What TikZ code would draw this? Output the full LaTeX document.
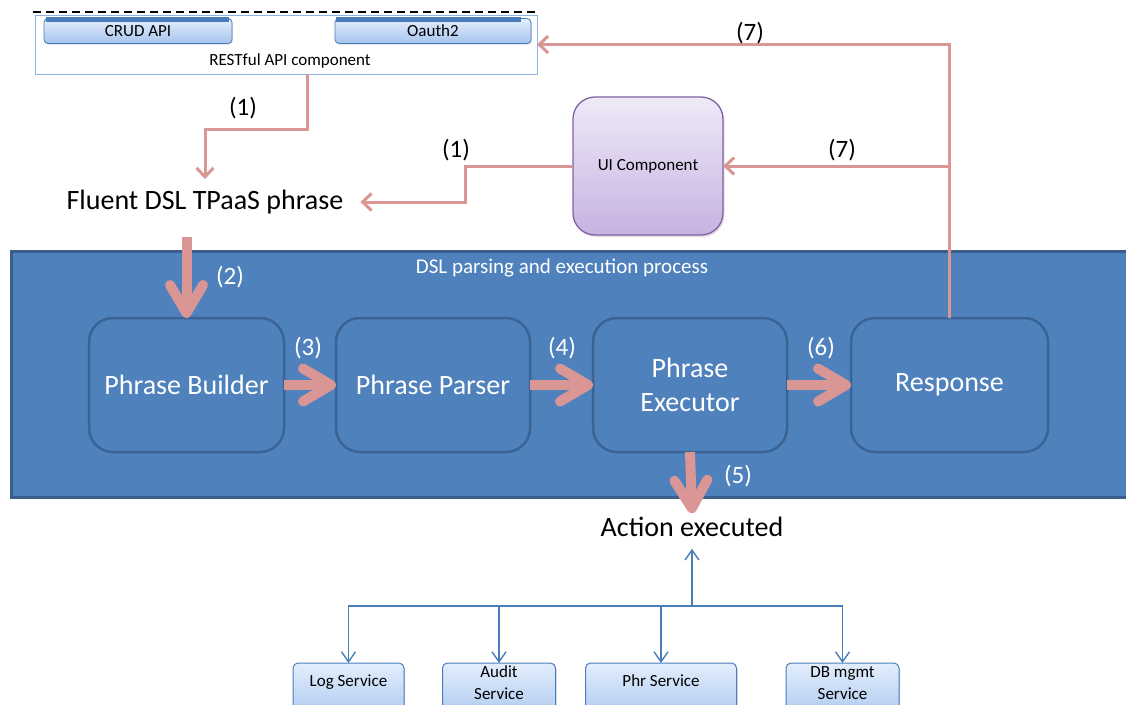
\documentclass[tikz,border=0pt]{standalone}
\usepackage{fontspec}
\setmainfont{Carlito}
\usetikzlibrary{arrows.meta,shadows,calc}

\definecolor{flow}{HTML}{D99694}
\definecolor{procfill}{HTML}{4F81BD}
\definecolor{procline}{HTML}{3A5F8B}
\definecolor{stageline}{HTML}{3B6396}
\definecolor{svcline}{HTML}{4A7EBB}
\definecolor{svctop}{HTML}{E3EEFC}
\definecolor{svcbot}{HTML}{A7C5EE}
\definecolor{uitop}{HTML}{EFEAF7}
\definecolor{uibot}{HTML}{C6B2E2}
\definecolor{uiline}{HTML}{8064A2}
\definecolor{restline}{HTML}{8EB4E3}

\tikzset{
  x=1pt, y=-1pt,
  every node/.style={inner sep=0pt, outer sep=0pt},
  fs/.style 2 args={font=\fontsize{#1}{#2}\selectfont},
  thin flow/.style={draw=flow, line width=3pt, -{Straight Barb[length=9pt,width=17pt]}},
  thick flow/.style={draw=flow, line width=10pt, -{Straight Barb[round,length=28pt,width=33pt]}},
  stage/.style={draw=stageline, line width=2.5pt, rounded corners=24pt,
    minimum height=134pt, text=white, fs={28}{34}, align=center},
  svcbox/.style={draw=svcline, line width=1pt, rounded corners=5pt,
    top color=svctop, bottom color=svcbot, minimum height=60pt,
    drop shadow={shadow xshift=1pt, shadow yshift=-1.5pt, opacity=0.3}},
  svctext/.style={fs={17}{22}, align=center},
  svc arrow/.style={draw=svcline, line width=1.4pt, -{Straight Barb[length=10pt,width=14pt]}},
  apibox/.style={draw=svcline, line width=0.8pt, rounded corners=4pt,
    top color=svctop, bottom color=svcbot, minimum height=25pt, fs={17}{20},
    drop shadow={shadow xshift=0.8pt, shadow yshift=-1.2pt, opacity=0.3}},
  step label/.style={fs={25}{28}},
  white label/.style={fs={25}{28}, text=white},
}

\begin{document}
\begin{tikzpicture}
\clip (0,0) rectangle (1126,704);
\fill[white] (0,0) rectangle (1126,704);

% REST API component
\draw[black, line width=2.5pt, dash pattern=on 8pt off 5pt] (33,12) -- (535,12);
\node[draw=restline, line width=0.8pt, minimum width=502pt, minimum height=59pt] (rest) at (286,44.5) {};
\node[apibox, minimum width=188pt] (crud) at (138,31) {CRUD API};
\node[apibox, minimum width=196pt] (oauth) at (433,31) {Oauth2};
\fill[svcline] (46,16.5) rectangle (229,21.5);
\fill[svcline] (336,16.5) rectangle (521,21.5);
\node[fs={17}{20}] (restlabel) at (290,61) {RESTful API component};

% Phrase sources
\node[fs={28}{32}, inner xsep=17pt, inner ysep=11pt] (fluent) at (205,202) {Fluent DSL TPaaS phrase};
\node[draw=uiline, line width=1.3pt, rounded corners=22pt, top color=uitop, bottom color=uibot,
      minimum width=150pt, minimum height=138pt, fs={17}{20},
      drop shadow={shadow xshift=1.5pt, shadow yshift=-2pt, opacity=0.25}] (ui) at (648,166) {UI Component};

% Processing block
\node[draw=procline, fill=procfill, line width=3pt, minimum width=1129pt, minimum height=246pt] (proc) at (575.5,374) {};
\node[fs={21}{24}, text=white] (proclabel) at (562,268) {DSL parsing and execution process};

\node[stage, minimum width=195pt] (builder) at (186.5,385) {Phrase Builder};
\node[stage, minimum width=194pt] (parser) at (433,385) {Phrase Parser};
\node[stage, minimum width=194pt] (executor) at (690,385) {Phrase\\Executor};
\node[stage, minimum width=197pt] (response) at (949.5,385) {Response};

\node[fs={28}{32}, inner ysep=4pt] (action) at (692,527) {Action executed};

% Services
\node[svcbox, minimum width=111pt, anchor=north] (log) at (348.5,663) {};
\node[svcbox, minimum width=113pt, anchor=north] (audit) at (499,663) {};
\node[svcbox, minimum width=151pt, anchor=north] (phr) at (661,663) {};
\node[svcbox, minimum width=113pt, anchor=north] (db) at (842.5,663) {};
\node[svctext] (logtext) at (348.5,682) {Log Service};
\node[svctext] (audittext) at (499,683) {Audit\\Service};
\node[svctext] (phrtext) at (661,681) {Phr Service};
\node[svctext] (dbtext) at (842.5,683) {DB mgmt\\Service};

% Thin flows
\draw[thin flow] ([xshift=21pt]rest.south) -- ++(0,55) -| (fluent.north);
\node[step label] (l1a) at (243,108) {(1)};
\draw[thin flow] (ui.west) -| ($(fluent.east)+(105,0)$) -- (fluent.east);
\node[step label] (l1b) at (456,150) {(1)};
\draw[thin flow] (response.north) |- (rest.east);
\node[step label] (l7a) at (750,33) {(7)};
\draw[thin flow] (ui.east -| response.north) -- (ui.east);
\node[step label] (l7b) at (842,150) {(7)};

% Thick flows
\draw[thick flow, shorten <=12pt] (fluent.south -| builder.north) -- (builder.north);
\node[white label] (l2) at (230,277) {(2)};
\draw[thick flow] (builder.east) -- (parser.west);
\node[white label] (l3) at (308,348) {(3)};
\draw[thick flow] (parser.east) -- (executor.west);
\node[white label] (l4) at (562,348) {(4)};
\draw[thick flow] (executor.east) -- (response.west);
\node[white label] (l6) at (821,348) {(6)};
\draw[thick flow] (executor.south) -- (action.north);
\node[white label] (l5) at (738,476) {(5)};

% Service bus
\coordinate (bus) at (692,606);
\draw[svc arrow, shorten >=8pt] (bus) -- (action.south);
\draw[svc arrow] (bus) -| (log.north);
\draw[svc arrow] (bus) -| (audit.north);
\draw[svc arrow] (bus) -| (phr.north);
\draw[svc arrow] (bus) -| (db.north);
\end{tikzpicture}
\end{document}
